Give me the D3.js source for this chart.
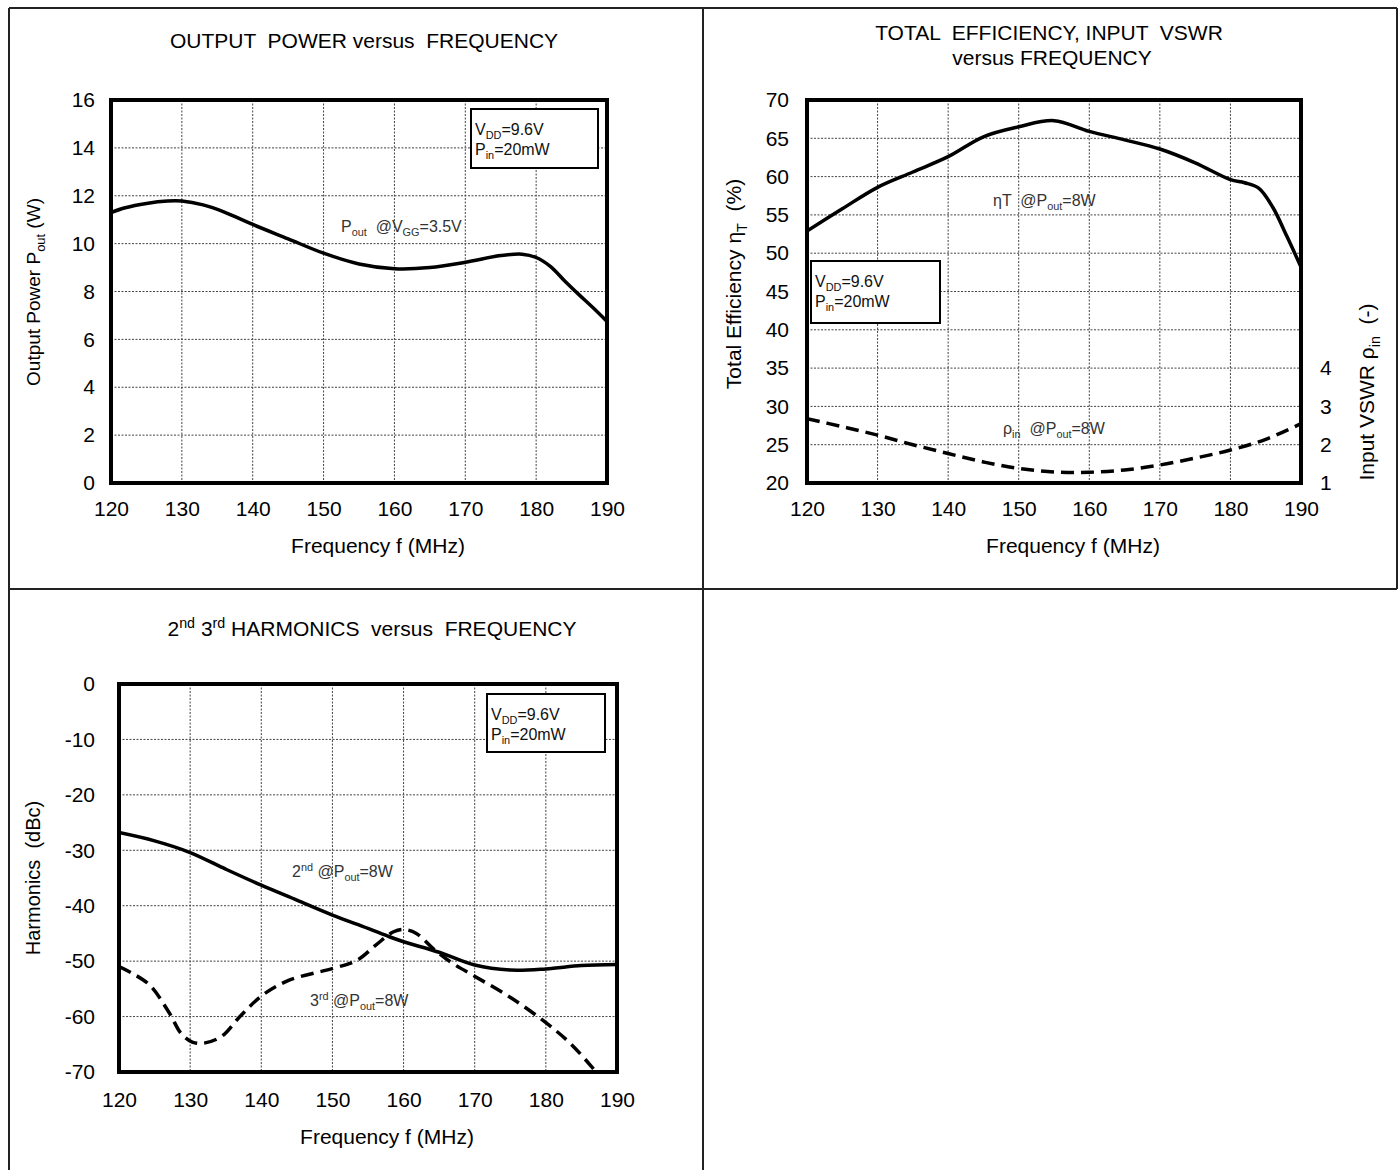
<!DOCTYPE html>
<html>
<head>
<meta charset="utf-8">
<script src="https://cdn.jsdelivr.net/npm/d3@7"></script>
<style>
  html, body { margin: 0; padding: 0; background: #fff; }
  svg { display: block; font-family: "Liberation Sans", Arial, sans-serif; }
  text { white-space: pre; }
</style>
</head>
<body>
<svg id="c" width="1400" height="1170"></svg>
<script>
// ---------------- DATA ----------------
const xTicks = [120, 130, 140, 150, 160, 170, 180, 190];

// Chart 1: Output power vs frequency
const freqPout = [120, 122, 125, 128, 130, 133, 136, 140, 145, 150, 155, 160, 165, 170, 175, 178, 180, 182, 184, 186, 188, 190];
const pout     = [11.3, 11.5, 11.68, 11.78, 11.78, 11.62, 11.32, 10.8, 10.2, 9.6, 9.15, 8.95, 9.0, 9.22, 9.5, 9.56, 9.42, 9.05, 8.45, 7.88, 7.33, 6.75];
const yTicksPout = [0, 2, 4, 6, 8, 10, 12, 14, 16];

// Chart 2: Total efficiency and input VSWR vs frequency
const freqEff = [120, 125, 130, 135, 140, 145, 150, 155, 160, 165, 170, 175, 180, 182, 184, 186, 188, 190];
const effT    = [52.9, 55.8, 58.6, 60.6, 62.6, 65.2, 66.5, 67.3, 65.9, 64.8, 63.6, 61.8, 59.6, 59.2, 58.5, 56.0, 52.2, 48.2];
const yTicksEff = [20, 25, 30, 35, 40, 45, 50, 55, 60, 65, 70];

const freqVswr = [120, 125, 130, 135, 140, 145, 150, 155, 160, 165, 170, 175, 180, 185, 190];
const vswr     = [2.68, 2.47, 2.25, 2.0, 1.77, 1.55, 1.38, 1.29, 1.28, 1.34, 1.47, 1.65, 1.86, 2.14, 2.55];
const yTicksVswr = [1, 2, 3, 4];

// Chart 3: 2nd / 3rd harmonics vs frequency
const freqH2 = [120, 125, 130, 135, 140, 145, 150, 155, 158, 160, 165, 170, 175, 180, 185, 190];
const harm2  = [-26.8, -28.3, -30.4, -33.4, -36.3, -39.0, -41.7, -44.1, -45.6, -46.5, -48.4, -50.7, -51.6, -51.4, -50.8, -50.6];
const freqH3 = [120, 122, 124.3, 127.1, 128.7, 130.3, 131.9, 134.4, 137, 140.2, 144, 150.1, 153.5, 156.1, 158.6, 160.1, 161.8, 164.4, 166.9, 170.1, 175.2, 180.1, 183.4, 186.6, 188];
const harm3  = [-51.0, -52.3, -54.3, -59.4, -63.0, -64.6, -64.8, -63.6, -60.0, -56.1, -53.4, -51.3, -49.8, -47.1, -44.7, -44.3, -45.0, -48.0, -50.4, -52.8, -56.7, -61.2, -64.8, -69.3, -71.5];
const yTicksHarm = [0, -10, -20, -30, -40, -50, -60, -70];

// ---------------- HELPERS ----------------
const svg = d3.select("#c");
const FONT = 21;
const fmt = d => String(d);

function rich(g, x, y, parts, size, opts = {}) {
  const t = g.append("text")
    .attr("x", x).attr("y", y)
    .attr("font-size", size)
    .attr("fill", opts.fill || "#000")
    .attr("text-anchor", opts.anchor || "start");
  if (opts.rotate) t.attr("transform", `rotate(${opts.rotate},${x},${y})`);
  let cur = 0;
  parts.forEach(p => {
    const [s, type] = Array.isArray(p) ? p : [p, "n"];
    let target = 0, fs = size;
    if (type === "sub") { target = size * 0.28; fs = size * 0.68; }
    if (type === "sup") { target = -size * 0.38; fs = size * 0.68; }
    t.append("tspan").attr("dy", target - cur).attr("font-size", fs).text(s);
    cur = target;
  });
  return t;
}

let clipId = 0;
function chart(cfg) {
  const g = svg.append("g");
  const x = d3.scaleLinear().domain([120, 190]).range([cfg.x0, cfg.x1]);
  const y = d3.scaleLinear().domain(cfg.yDomain).range([cfg.y1, cfg.y0]);

  // grid
  const grid = g.append("g").attr("stroke", "#444").attr("stroke-width", 1).attr("stroke-dasharray", "2,1.5");
  grid.selectAll("line.v").data(xTicks.slice(1, -1)).join("line")
    .attr("x1", d => x(d)).attr("x2", d => x(d)).attr("y1", cfg.y0).attr("y2", cfg.y1);
  grid.selectAll("line.h").data(cfg.yTicks.filter(d => d !== cfg.yDomain[0] && d !== cfg.yDomain[1])).join("line")
    .attr("y1", d => y(d)).attr("y2", d => y(d)).attr("x1", cfg.x0).attr("x2", cfg.x1);

  // axes (labels via d3 axis)
  const ax = g.append("g").attr("transform", `translate(0,${cfg.y1})`)
    .call(d3.axisBottom(x).tickValues(xTicks).tickSize(0).tickPadding(cfg.xPad || 18).tickFormat(fmt));
  ax.select(".domain").remove();
  ax.selectAll("text").attr("font-size", FONT).attr("fill", "#000").attr("font-family", null);

  const ay = g.append("g").attr("transform", `translate(${cfg.x0},0)`)
    .call(d3.axisLeft(y).tickValues(cfg.yTicks).tickSize(0).tickPadding(cfg.yPad || 16).tickFormat(fmt));
  ay.select(".domain").remove();
  ay.selectAll("text").attr("font-size", FONT).attr("fill", "#000").attr("font-family", null);

  // clip
  const id = "clip" + (clipId++);
  g.append("clipPath").attr("id", id).append("rect")
    .attr("x", cfg.x0).attr("y", cfg.y0).attr("width", cfg.x1 - cfg.x0).attr("height", cfg.y1 - cfg.y0);
  const lines = g.append("g").attr("clip-path", `url(#${id})`);

  // frame
  g.append("rect").attr("x", cfg.x0).attr("y", cfg.y0)
    .attr("width", cfg.x1 - cfg.x0).attr("height", cfg.y1 - cfg.y0)
    .attr("fill", "none").attr("stroke", "#000").attr("stroke-width", 4);

  return { g, x, y, lines };
}

function drawLine(c, xs, ys, yScale, dashed) {
  const pts = xs.map((d, i) => [d, ys[i]]);
  const line = d3.line().x(d => c.x(d[0])).y(d => yScale(d[1])).curve(d3.curveCatmullRom.alpha(0.5));
  c.lines.append("path").attr("d", line(pts))
    .attr("fill", "none").attr("stroke", "#000").attr("stroke-width", 3.5)
    .attr("stroke-linejoin", "round")
    .attr("stroke-dasharray", dashed ? "13,7" : null);
}

function box(g, x, y, w, h) {
  g.append("rect").attr("x", x).attr("y", y).attr("width", w).attr("height", h)
    .attr("fill", "#fff").attr("stroke", "#000").attr("stroke-width", 2);
  rich(g, x + 4, y + 26, [["V"], ["DD", "sub"], ["=9.6V"]], 16, { fill: "#111" });
  rich(g, x + 4, y + 46, [["P"], ["in", "sub"], ["=20mW"]], 16, { fill: "#111" });
}

// ---------------- PANEL BORDERS ----------------
const borders = svg.append("g").attr("stroke", "#222").attr("stroke-width", 2).attr("fill", "none");
borders.append("line").attr("x1", 9).attr("x2", 1397).attr("y1", 8).attr("y2", 8);
borders.append("line").attr("x1", 9).attr("x2", 9).attr("y1", 8).attr("y2", 1170);
borders.append("line").attr("x1", 703).attr("x2", 703).attr("y1", 8).attr("y2", 1170);
borders.append("line").attr("x1", 1397).attr("x2", 1397).attr("y1", 8).attr("y2", 589);
borders.append("line").attr("x1", 9).attr("x2", 1397).attr("y1", 589).attr("y2", 589);

// ---------------- CHART 1 ----------------
const c1 = chart({ x0: 111, x1: 607, y0: 100, y1: 483, yDomain: [0, 16], yTicks: yTicksPout });
drawLine(c1, freqPout, pout, c1.y, false);
rich(c1.g, 364, 48, [["OUTPUT  POWER versus  FREQUENCY"]], 21, { anchor: "middle" });
rich(c1.g, 378, 553, [["Frequency f (MHz)"]], 21, { anchor: "middle" });
rich(c1.g, 40, 292, [["Output Power P"], ["out", "sub"], [" (W)"]], 19, { anchor: "middle", rotate: -90 });
box(c1.g, 471, 109, 127, 59);
rich(c1.g, 341, 232, [["P"], ["out", "sub"], ["  @V"], ["GG", "sub"], ["=3.5V"]], 16, { fill: "#333" });

// ---------------- CHART 2 ----------------
const c2 = chart({ x0: 807, x1: 1301, y0: 100, y1: 483, yDomain: [20, 70], yTicks: yTicksEff, yPad: 18 });
const yV = d3.scaleLinear().domain([1, 11]).range([483, 100]);
drawLine(c2, freqEff, effT, c2.y, false);
drawLine(c2, freqVswr, vswr, yV, true);
const ayR = c2.g.append("g").attr("transform", "translate(1301,0)")
  .call(d3.axisRight(yV).tickValues(yTicksVswr).tickSize(0).tickPadding(19).tickFormat(fmt));
ayR.select(".domain").remove();
ayR.selectAll("text").attr("font-size", FONT).attr("fill", "#000").attr("font-family", null);
rich(c2.g, 1049, 40, [["TOTAL  EFFICIENCY, INPUT  VSWR"]], 21, { anchor: "middle" });
rich(c2.g, 1052, 65, [["versus FREQUENCY"]], 21, { anchor: "middle" });
rich(c2.g, 1073, 553, [["Frequency f (MHz)"]], 21, { anchor: "middle" });
rich(c2.g, 741, 284, [["Total Efficiency η"], ["T", "sub"], ["  (%)"]], 21, { anchor: "middle", rotate: -90 });
rich(c2.g, 1374, 392, [["Input VSWR ρ"], ["in", "sub"], ["  (-)"]], 21, { anchor: "middle", rotate: -90 });
box(c2.g, 811, 261, 129, 62);
rich(c2.g, 993, 206, [["ηT  @P"], ["out", "sub"], ["=8W"]], 16, { fill: "#333" });
rich(c2.g, 1003, 434, [["ρ"], ["in", "sub"], ["  @P"], ["out", "sub"], ["=8W"]], 16, { fill: "#333" });

// ---------------- CHART 3 ----------------
const c3 = chart({ x0: 119, x1: 617, y0: 684, y1: 1072, yDomain: [-70, 0], yTicks: yTicksHarm, yPad: 24, xPad: 20 });
drawLine(c3, freqH2, harm2, c3.y, false);
drawLine(c3, freqH3, harm3, c3.y, true);
rich(c3.g, 372, 636, [["2"], ["nd", "sup"], [" 3"], ["rd", "sup"], [" HARMONICS  versus  FREQUENCY"]], 21, { anchor: "middle" });
rich(c3.g, 387, 1144, [["Frequency f (MHz)"]], 21, { anchor: "middle" });
rich(c3.g, 40, 878, [["Harmonics  (dBc)"]], 20, { anchor: "middle", rotate: -90 });
box(c3.g, 487, 694, 118, 58);
rich(c3.g, 292, 877, [["2"], ["nd", "sup"], [" @P"], ["out", "sub"], ["=8W"]], 16, { fill: "#333" });
rich(c3.g, 310, 1006, [["3"], ["rd", "sup"], [" @P"], ["out", "sub"], ["=8W"]], 16, { fill: "#333" });
</script>
</body>
</html>
